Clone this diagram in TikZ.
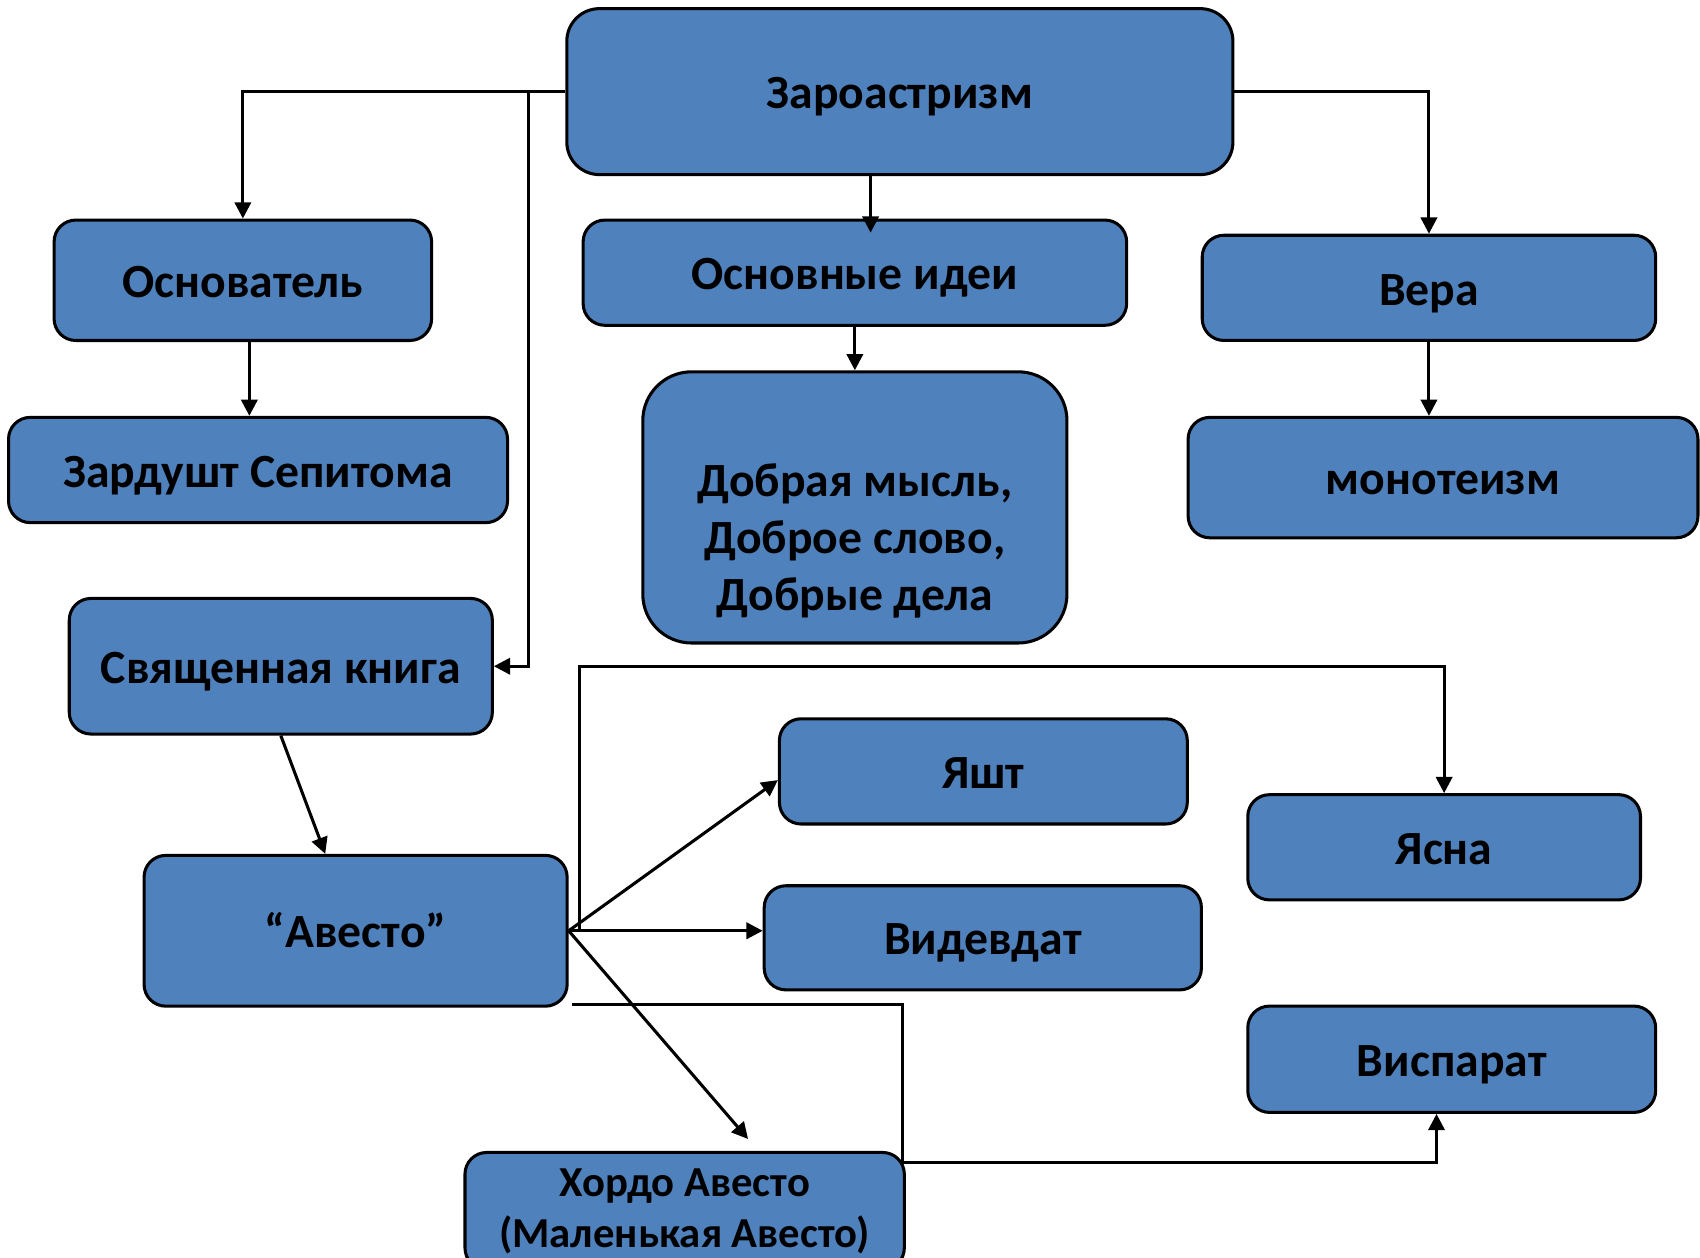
\documentclass[tikz,border=0pt]{standalone}
\usepackage{fontspec}
\setmainfont{Carlito}
\usetikzlibrary{arrows.meta,calc,positioning}
\definecolor{BoxBlue}{RGB}{79,129,189}

\begin{document}
\begin{tikzpicture}[x=.01cm,y=-.01cm,
  boxbase/.style={draw=black,line width=.8pt,fill=BoxBlue,rounded corners=.2cm,inner sep=0pt,align=center,font=\fontsize{12.5}{15}\selectfont\bfseries},
  box/.style={boxbase,text height=11.5pt,text depth=2.5pt},
  arr/.style={-{Triangle[length=1.5mm,width=1.5mm]},line width=.8pt}]
\useasboundingbox (0,0) rectangle (1568,1160);
% boxes
\node[box,minimum width=6.14cm,minimum height=1.53cm,rounded corners=.3cm] (zor) at (830,84.5) {Зароастризм};
\node[box,minimum width=3.48cm,minimum height=1.11cm] (founder) at (224,258.5) {Основатель};
\node[box,minimum width=5.01cm,minimum height=.97cm] (ideas) at (788.5,251.5) {Основные идеи};
\node[box,minimum width=4.18cm,minimum height=.97cm] (faith) at (1318,265.5) {Вера};
\node[box,minimum width=4.60cm,minimum height=.97cm] (zard) at (238,433.5) {Зардушт Сепитома};
\node[box,minimum width=3.91cm,minimum height=2.50cm,rounded corners=.45cm] (good) at (788.5,468) {};
\node[align=center,font=\fontsize{12.5}{15}\selectfont\bfseries] (goodtext) at (788.5,499) {Добрая мысль,\\Доброе слово,\\Добрые дела};
\node[box,minimum width=4.70cm,minimum height=1.11cm] (mono) at (1331,440.5) {монотеизм};
\node[box,minimum width=3.90cm,minimum height=1.25cm] (book) at (259,614.5) {Священная книга};
\node[box,minimum width=3.90cm,minimum height=1.39cm] (avesto) at (328,858.5) {“Авесто”};
\node[box,minimum width=3.76cm,minimum height=.97cm] (yasht) at (907,711.5) {Яшт};
\node[box,minimum width=3.62cm,minimum height=.97cm] (yasna) at (1332,781.5) {Ясна};
\node[box,minimum width=4.03cm,minimum height=.96cm] (vid) at (906.5,865) {Видевдат};
\node[box,minimum width=3.76cm,minimum height=.98cm] (visp) at (1339,977) {Виспарат};
\node[boxbase,minimum width=4.05cm,minimum height=1.08cm,font=\fontsize{11.2}{13.4}\selectfont\bfseries] (khordo) at (631.5,1117) {Хордо Авесто\\(Маленькая Авесто)};
% connectors
\coordinate (ideasin) at ($(ideas.north)+(14.5,13)$);
\coordinate (fz) at ($(founder.south)+(6,0)$);
\draw[arr] (zor.west) -| (founder.north);
\draw[arr] (zor.west) -- ++(-34,0) |- (book.east);
\draw[arr] (zor.east) -| (faith.north);
\draw[arr] (zor.south -| ideasin) -- (ideasin);
\draw[arr] (ideas.south) -- (good.north);
\draw[arr] (fz) -- (fz |- zard.north);
\draw[arr] (faith.south) -- (faith.south |- mono.north);
\draw[arr] (book.south) -- ($(avesto.north)+(-28,0)$);
\draw[arr] (avesto.east) -- ($(yasht.west)+(0,8)$);
\draw[arr] (avesto.east) -- (avesto.east -| vid.west);
\draw[arr] (avesto.east) -- ($(khordo.north)+(58.5,-11)$);
\draw[arr] ($(avesto.east)+(10,0)$) -- ++(0,-244) -| (yasna.north);
\draw[arr] ($(avesto.south east)+(3,-3)$) -- ++(305,0) -- ++(0,146) -| ($(visp.south)+(-14,0)$);
\end{tikzpicture}
\end{document}
